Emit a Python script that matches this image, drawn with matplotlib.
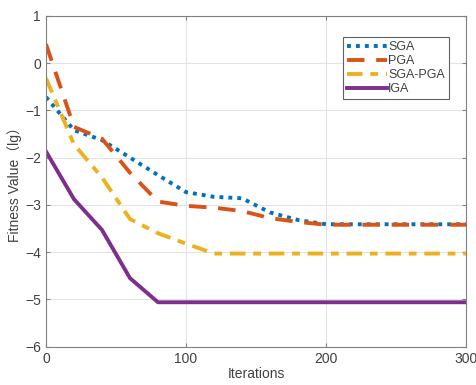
import matplotlib
matplotlib.use("Agg")
import matplotlib.pyplot as plt

plt.rcParams["font.family"] = ["Liberation Sans", "Noto Sans CJK SC", "DejaVu Sans"]
plt.rcParams["font.size"] = 9.5

iterations = [0, 20, 40, 60, 80, 100, 120, 140, 160, 180, 200, 220, 240, 260, 280, 300]
sga = [-0.72, -1.42, -1.63, -2.0, -2.37, -2.73, -2.83, -2.86, -3.16, -3.32, -3.41,
       -3.41, -3.41, -3.41, -3.41, -3.41]
pga = [0.4, -1.35, -1.6, -2.32, -2.93, -3.02, -3.06, -3.13, -3.28, -3.36, -3.42,
       -3.42, -3.42, -3.42, -3.42, -3.42]
sga_pga = [-0.32, -1.72, -2.42, -3.3, -3.6, -3.82, -4.03, -4.03, -4.03, -4.03, -4.03,
           -4.03, -4.03, -4.03, -4.03, -4.03]
iga = [-1.87, -2.88, -3.53, -4.55, -5.06, -5.06, -5.06, -5.06, -5.06, -5.06, -5.06,
       -5.06, -5.06, -5.06, -5.06, -5.06]

x_ticks = [0, 100, 200, 300]
y_ticks = [1, 0, -1, -2, -3, -4, -5, -6]

AXIS_GRAY = "#808080"
TEXT_GRAY = "#404040"

fig = plt.figure(figsize=(4.76, 3.85), dpi=100)
ax = fig.add_axes([0.0966, 0.0995, 0.8824, 0.8595])

ax.plot(iterations, sga, ls=(0, (1, 1.3)), lw=2.8, color="#0072BD", label="SGA")
ax.plot(iterations, pga, ls=(0, (4.5, 3.0)), lw=2.8, color="#D95319", label="PGA")
ax.plot(iterations, sga_pga, ls=(0, (4.0, 2.0, 2.0, 2.0)), lw=2.8, color="#EDB120", label="SGA-PGA")
ax.plot(iterations, iga, ls="-", lw=2.8, color="#7E2F8E", label="IGA")

ax.set_xlim(0, 300)
ax.set_ylim(-6, 1)
ax.set_xticks(x_ticks)
ax.set_yticks(y_ticks)
ax.grid(True, color="#e3e3e3", lw=0.8)
ax.set_axisbelow(True)
ax.tick_params(direction="in", top=True, right=True, length=3, colors=AXIS_GRAY,
               labelcolor=TEXT_GRAY, labelsize=10)
for s in ax.spines.values():
    s.set_color(AXIS_GRAY)
    s.set_linewidth(0.8)

ax.set_xlabel("Iterations", color=TEXT_GRAY, fontsize=10, labelpad=1)
ax.set_ylabel("Fitness Value（lg）", color=TEXT_GRAY, fontsize=10, labelpad=2)

leg = ax.legend(loc="upper right", bbox_to_anchor=(0.975, 0.955), fontsize=9,
                handlelength=3.2, handletextpad=0.1, labelspacing=0.15,
                borderpad=0.35, fancybox=False, framealpha=1)
leg.get_frame().set_edgecolor("#606060")
leg.get_frame().set_linewidth(0.8)
for t in leg.get_texts():
    t.set_color(TEXT_GRAY)

fig.savefig("out.png", dpi=100)
